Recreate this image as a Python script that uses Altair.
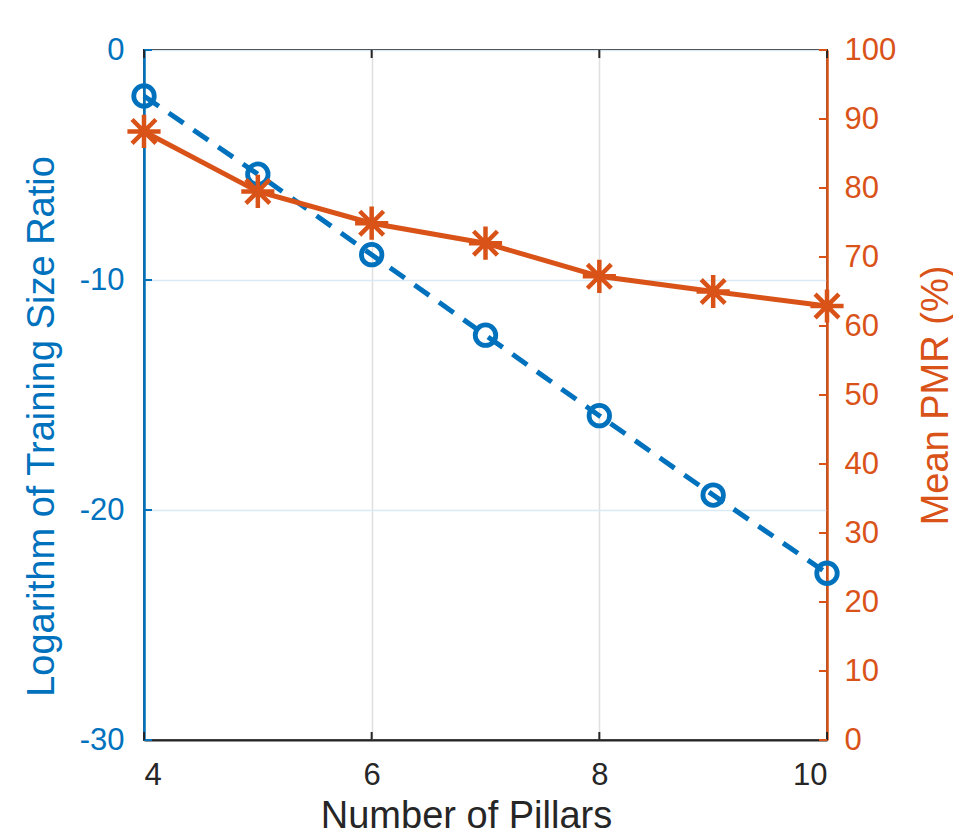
import altair as alt
import pandas as pd

# ---- data ----
pillars = [4, 5, 6, 7, 8, 9, 10]
log_ratio = [-2.0, -5.4, -8.9, -12.4, -15.9, -19.35, -22.75]
mean_pmr = [88.2, 79.5, 74.9, 72.0, 67.2, 65.0, 62.9]

x_ticks = [4, 6, 8, 10]
left_ticks = [0, -10, -20, -30]
right_ticks = [0, 10, 20, 30, 40, 50, 60, 70, 80, 90, 100]

BLUE = "#0072BD"
ORANGE = "#D95319"
DARK = "#262626"
FONT = "Liberation Sans"
W, H = 683, 690
TICK = 8
LBL = 31
TTL = 38

df = pd.DataFrame({"pillars": pillars, "log_ratio": log_ratio, "pmr": mean_pmr})
xt = pd.DataFrame({"v": x_ticks})
lt = pd.DataFrame({"v": left_ticks})
rt = pd.DataFrame({"v": right_ticks})

xscale = alt.Scale(domain=[4, 10], nice=False, zero=False)
lscale = alt.Scale(domain=[-30, 0], nice=False, zero=False)
rscale = alt.Scale(domain=[0, 100], nice=False, zero=False)

XT = "Number of Pillars"
LT = "Logarithm of Training Size Ratio"
RT = "Mean PMR (%)"

xaxis = alt.Axis(values=x_ticks, grid=True, gridColor="#dfdfdf", gridWidth=1.5,
                 ticks=False, domainColor=DARK, domainWidth=2,
                 labelColor=DARK, labelFont=FONT, labelFontSize=LBL, labelPadding=20,
                 title=XT, titleFont=FONT, titleFontSize=TTL,
                 titleFontWeight="normal", titleColor=DARK, titlePadding=7,
                 titleX=322)

laxis = alt.Axis(values=left_ticks, grid=True, gridColor="#d9eaf5", gridWidth=1.5,
                 ticks=False, domainColor=BLUE, domainWidth=2.5,
                 labelColor=BLUE, labelFont=FONT, labelFontSize=LBL, labelPadding=20,
                 labelExpr="'' + datum.value",
                 title=LT, titleFont=FONT,
                 titleFontSize=TTL, titleFontWeight="normal", titleColor=BLUE,
                 titlePadding=18, titleY=376)

raxis = alt.Axis(values=right_ticks, grid=False, ticks=False,
                 domainColor=ORANGE, domainWidth=2.5,
                 labelColor=ORANGE, labelFont=FONT, labelFontSize=LBL, labelPadding=17,
                 title=RT, titleFont=FONT, titleFontSize=TTL,
                 titleFontWeight="normal", titleColor=ORANGE, titlePadding=22,
                 titleAngle=270, titleBaseline="top")

ASTERISK = "M0,-1L0,1M-1,0L1,0M-0.72,-0.72L0.72,0.72M-0.72,0.72L0.72,-0.72"

X = alt.X("pillars:Q", scale=xscale, axis=xaxis, title=XT)
YL = alt.Y("log_ratio:Q", scale=lscale, axis=laxis, title=LT)
YR = alt.Y("pmr:Q", scale=rscale, axis=raxis, title=RT)
XV = alt.X("v:Q", scale=xscale, axis=xaxis, title=XT)
YLV = alt.Y("v:Q", scale=lscale, axis=laxis, title=LT)
YRV = alt.Y("v:Q", scale=rscale, axis=raxis, title=RT)

# inward ticks
xtick_bottom = alt.Chart(xt).mark_rule(color=DARK, strokeWidth=2).encode(
    x=XV, y=alt.value(H), y2=alt.value(H - TICK))
xtick_top = alt.Chart(xt).mark_rule(color=DARK, strokeWidth=2).encode(
    x=XV, y=alt.value(0), y2=alt.value(TICK))
ltick = alt.Chart(lt).mark_rule(color=BLUE, strokeWidth=2).encode(
    y=YLV, x=alt.value(0), x2=alt.value(TICK))
rtick = alt.Chart(rt).mark_rule(color=ORANGE, strokeWidth=2).encode(
    y=YRV, x=alt.value(W - TICK), x2=alt.value(W))

blue_line = alt.Chart(df).mark_line(color=BLUE, strokeWidth=5, strokeDash=[18, 12]).encode(
    x=X, y=YL)
blue_pts = alt.Chart(df).mark_point(shape="circle", size=420, strokeWidth=4.8,
                                    color=BLUE, filled=False, opacity=1).encode(x=X, y=YL)

orange_line = alt.Chart(df).mark_line(color=ORANGE, strokeWidth=5).encode(x=X, y=YR)
orange_pts = alt.Chart(df).mark_point(shape=ASTERISK, size=1100, strokeWidth=4.5,
                                      color=ORANGE, filled=False, opacity=1).encode(x=X, y=YR)

blue = alt.layer(blue_line, ltick, xtick_bottom, xtick_top, blue_pts)
orange = alt.layer(orange_line, rtick, orange_pts)

chart = alt.layer(blue, orange).resolve_scale(y="independent").properties(
    width=W, height=H,
    autosize=alt.AutoSizeParams(type="none"),
    padding={"left": 136, "top": 42, "right": 126, "bottom": 89},
).configure(font=FONT, background="white").configure_view(stroke=DARK, strokeWidth=2)

chart.save("out.html", embed_options={"renderer": "svg", "actions": False})
